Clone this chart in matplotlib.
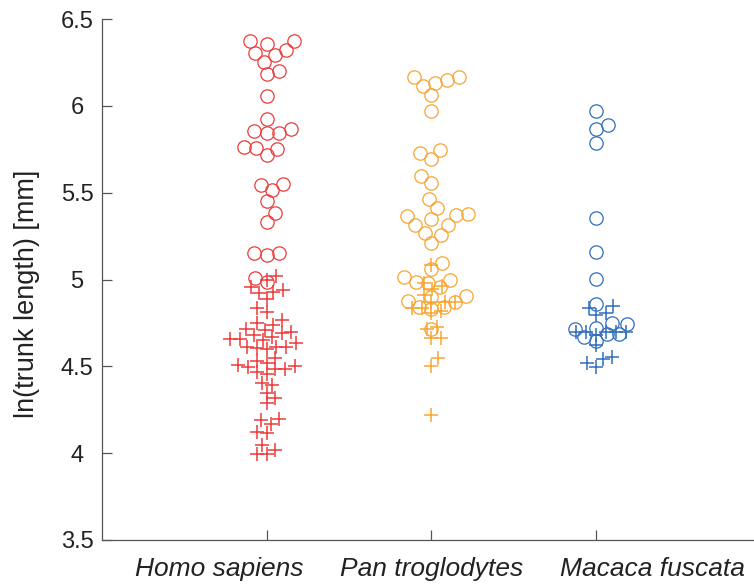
import numpy as np
import matplotlib.pyplot as plt
from matplotlib.transforms import ScaledTranslation

species = ['Homo sapiens', 'Pan troglodytes', 'Macaca fuscata']
colors = ['#EE3B3B', '#F8A530', '#2F6EBE']

# ln(trunk length) values, open circles
homo_circles = [6.376, 6.371, 6.357, 6.319, 6.304, 6.290, 6.254, 6.198, 6.184, 6.058,
                5.925, 5.866, 5.843, 5.846, 5.856, 5.756, 5.718, 5.765, 5.754,
                5.545, 5.550, 5.516, 5.452, 5.382, 5.331, 5.154, 5.139, 5.151,
                5.010, 4.986]
pan_circles = [6.165, 6.150, 6.165, 6.134, 6.115, 6.063, 5.973, 5.731, 5.746, 5.696,
               5.598, 5.554, 5.462, 5.410, 5.378, 5.372, 5.347, 5.368, 5.314, 5.314,
               5.270, 5.256, 5.209, 5.093, 5.059, 4.997, 4.982, 4.987, 5.013, 4.955,
               4.901, 4.905, 4.843, 4.872, 4.840, 4.828, 4.878, 4.713]
macaca_circles = [5.971, 5.890, 5.867, 5.785, 5.353, 5.159, 5.003, 4.859, 4.748, 4.742,
                  4.715, 4.719, 4.684, 4.667, 4.684, 4.647]

# ln(trunk length) values, plus markers
homo_plus = [5.020, 5.000, 4.959, 4.940, 4.924, 4.930, 4.886, 4.834, 4.814, 4.767,
             4.738, 4.748, 4.690, 4.713, 4.699, 4.709, 4.655, 4.671, 4.680, 4.651,
             4.655, 4.609, 4.613, 4.632, 4.613, 4.603, 4.598, 4.546, 4.530, 4.482,
             4.517, 4.501, 4.507, 4.482, 4.497, 4.469, 4.455, 4.402, 4.392, 4.344,
             4.286, 4.315, 4.194, 4.190, 4.167, 4.123, 4.114, 4.046, 3.994, 3.998,
             4.021]
pan_plus = [5.084, 4.944, 4.978, 4.963, 4.911, 4.834, 4.872, 4.834, 4.872, 4.872,
            4.809, 4.820, 4.713, 4.728, 4.661, 4.661, 4.546, 4.501, 4.219]
macaca_plus = [4.847, 4.834, 4.805, 4.795, 4.695, 4.695, 4.695, 4.695, 4.680, 4.695,
               4.622, 4.555, 4.540, 4.517, 4.497]

circles = [homo_circles, pan_circles, macaca_circles]
pluses = [homo_plus, pan_plus, macaca_plus]

W, H = 754, 587
LEFT, RIGHT, BOTTOM, TOP = 102, 754, 540, 19
XMIN, XMAX = 0.0, 3.96
YMIN, YMAX = 3.5, 6.5
PX_X = (RIGHT - LEFT) / (XMAX - XMIN)
PX_Y = (BOTTOM - TOP) / (YMAX - YMIN)


def swarm(vals, diam):
    # beeswarm offsets: place each point as close to the centre as possible
    # without overlapping the points already placed (in pixel space)
    vals = np.asarray(vals, dtype=float)
    order = np.argsort(vals)
    placed = []
    offsets = np.zeros(len(vals))
    for n, i in enumerate(order):
        y = vals[i] * PX_Y
        cands = [0.0]
        for px, py in placed:
            dy = abs(y - py)
            if dy < diam:
                dx = np.sqrt(diam ** 2 - dy ** 2)
                cands += [px + dx, px - dx]
        sgn = 1 if n % 2 else -1
        cands.sort(key=lambda c: (round(abs(c), 3), sgn * c))
        best = 0.0
        for c in cands:
            if all((c - px) ** 2 + (y - py) ** 2 >= diam ** 2 - 1e-6 for px, py in placed):
                best = c
                break
        placed.append((best, y))
        offsets[i] = best / PX_X
    return offsets


plt.rcParams['font.family'] = ['Liberation Sans', 'DejaVu Sans']
axcol = '#555555'
txtcol = '#222222'

fig = plt.figure(figsize=(W / 100, H / 100), dpi=100)
ax = fig.add_axes([LEFT / W, 1 - BOTTOM / H, (RIGHT - LEFT) / W, (BOTTOM - TOP) / H])

for k in range(3):
    xo = swarm(circles[k], 12.5)
    ax.plot(k + 1 + xo, circles[k], 'o', mfc='none', mec=colors[k], ms=9.6, mew=0.9)
    xp = swarm(pluses[k], 10.0)
    ax.plot(k + 1 + xp, pluses[k], '+', color=colors[k], ms=10, mew=1.1)

ax.set_xlim(XMIN, XMAX)
ax.set_ylim(YMIN, YMAX)
ax.set_xticks([1, 2, 3])
ax.set_xticklabels([])
# species names under the ticks, outer ones nudged apart so they do not collide
for k, (name, dx) in enumerate(zip(species, [-47, 0, 56])):
    tr = ax.get_xaxis_transform() + ScaledTranslation(dx / 100, -0.17, fig.dpi_scale_trans)
    ax.text(k + 1, 0, name, transform=tr, ha='center', va='top',
            fontsize=19, style='italic', color=txtcol)
ax.set_yticks([3.5, 4, 4.5, 5, 5.5, 6, 6.5])
ax.set_yticklabels(['3.5', '4', '4.5', '5', '5.5', '6', '6.5'], fontsize=17,
                   color=txtcol, ha='center')
ax.tick_params(axis='y', direction='in', length=7, width=0.9, color=axcol, pad=18)
ax.tick_params(axis='x', direction='in', length=7, width=0.9, color=axcol)
ax.spines['top'].set_visible(False)
ax.spines['right'].set_visible(False)
for s in ['left', 'bottom']:
    ax.spines[s].set_color(axcol)
    ax.spines[s].set_linewidth(0.9)
ax.set_ylabel('ln(trunk length) [mm]', fontsize=19.5, color=txtcol)
ax.yaxis.set_label_coords(-0.095, 0.472)

fig.savefig('out.png', dpi=100)
